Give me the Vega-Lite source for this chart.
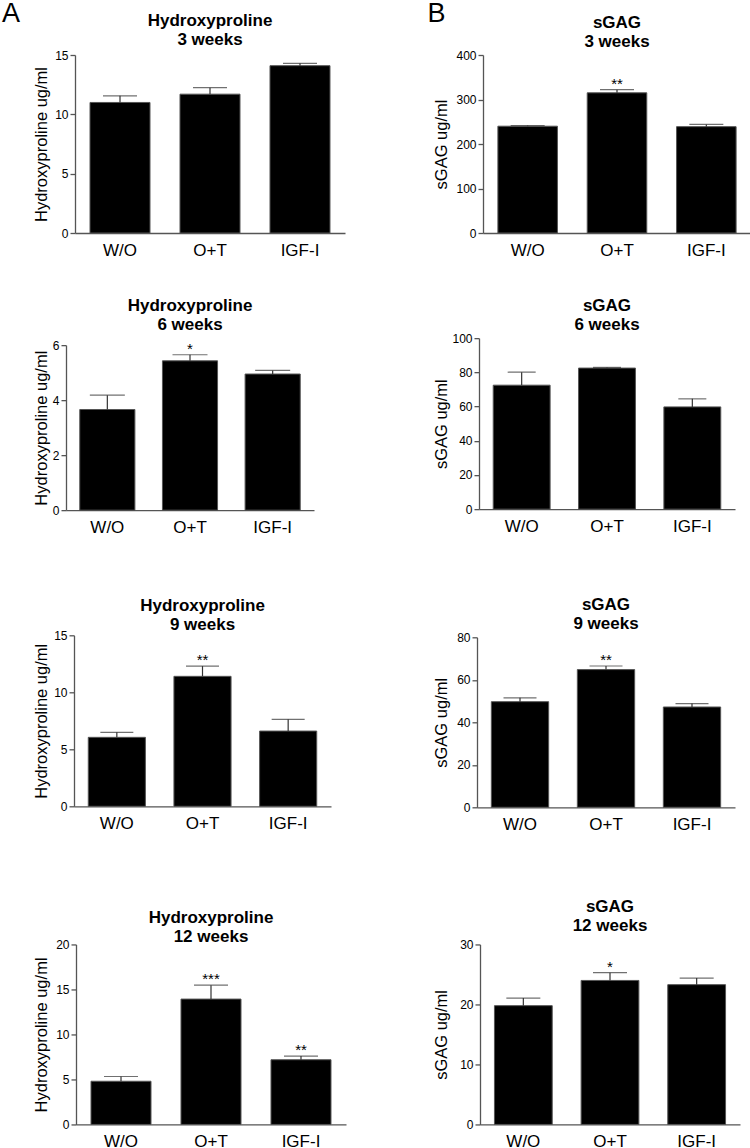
{
  "$schema": "https://vega.github.io/schema/vega-lite/v6.json",
  "padding": {"left": 1, "top": 0, "right": 0, "bottom": 0},
  "background": "white",
  "datasets": {
    "d": [
      {"panel": "A1", "group": "W/O", "value": 11.0, "upper": 11.56, "sig": ""},
      {"panel": "A1", "group": "O+T", "value": 11.7, "upper": 12.25, "sig": ""},
      {"panel": "A1", "group": "IGF-I", "value": 14.1, "upper": 14.3, "sig": ""},
      {"panel": "A2", "group": "W/O", "value": 3.66, "upper": 4.18, "sig": ""},
      {"panel": "A2", "group": "O+T", "value": 5.43, "upper": 5.65, "sig": "*"},
      {"panel": "A2", "group": "IGF-I", "value": 4.95, "upper": 5.08, "sig": ""},
      {"panel": "A3", "group": "W/O", "value": 6.05, "upper": 6.49, "sig": ""},
      {"panel": "A3", "group": "O+T", "value": 11.4, "upper": 12.3, "sig": "**"},
      {"panel": "A3", "group": "IGF-I", "value": 6.6, "upper": 7.63, "sig": ""},
      {"panel": "A4", "group": "W/O", "value": 4.8, "upper": 5.33, "sig": ""},
      {"panel": "A4", "group": "O+T", "value": 13.93, "upper": 15.48, "sig": "***"},
      {"panel": "A4", "group": "IGF-I", "value": 7.19, "upper": 7.6, "sig": "**"},
      {"panel": "B1", "group": "W/O", "value": 240, "upper": 241.6, "sig": ""},
      {"panel": "B1", "group": "O+T", "value": 315, "upper": 322, "sig": "**"},
      {"panel": "B1", "group": "IGF-I", "value": 239, "upper": 244, "sig": ""},
      {"panel": "B2", "group": "W/O", "value": 72.5, "upper": 80.1, "sig": ""},
      {"panel": "B2", "group": "O+T", "value": 82.5, "upper": 82.9, "sig": ""},
      {"panel": "B2", "group": "IGF-I", "value": 59.8, "upper": 64.5, "sig": ""},
      {"panel": "B3", "group": "W/O", "value": 49.7, "upper": 51.5, "sig": ""},
      {"panel": "B3", "group": "O+T", "value": 64.8, "upper": 66.5, "sig": "**"},
      {"panel": "B3", "group": "IGF-I", "value": 47.2, "upper": 48.8, "sig": ""},
      {"panel": "B4", "group": "W/O", "value": 19.8, "upper": 21.06, "sig": ""},
      {"panel": "B4", "group": "O+T", "value": 24.0, "upper": 25.3, "sig": "*"},
      {"panel": "B4", "group": "IGF-I", "value": 23.3, "upper": 24.4, "sig": ""}
    ]
  },
  "data": {"name": "d"},
  "spacing": 81,
  "hconcat": [
    {
      "title": {"text": "A", "anchor": "start", "fontSize": 27, "fontWeight": "normal", "offset": -15.7, "dx": -30.1},
      "spacing": 38.15,
      "vconcat": [
        {
          "spacing": 0,
          "hconcat": [
            {"width": 1, "height": 1, "data": {"values": [{"s": 0}]}, "mark": {"type": "point", "size": 0, "strokeWidth": 0, "opacity": 0}, "encoding": {}},
            {
              "width": 270, "height": 178,
              "title": {"text": ["Hydroxyproline", "3 weeks"], "offset": -0.4},
              "transform": [{"filter": "datum.panel === 'A1'"}],
              "encoding": {"x": {"field": "group", "type": "nominal", "sort": ["W/O", "O+T", "IGF-I"], "scale": {"paddingInner": 0.3333, "paddingOuter": 0.1667}, "title": null}},
              "layer": [
                {"mark": {"type": "bar", "fill": "#000", "stroke": "#555", "strokeWidth": 1}, "encoding": {"y": {"field": "value", "type": "quantitative", "scale": {"domain": [0, 15], "nice": false}, "axis": {"values": [0, 5, 10, 15], "tickCount": 4, "titlePadding": 5.6}, "title": "Hydroxyproline ug/ml"}}},
                {"mark": {"type": "rule", "color": "#333", "strokeWidth": 1.2}, "encoding": {"y": {"field": "value", "type": "quantitative", "title": "Hydroxyproline ug/ml"}, "y2": {"field": "upper"}}},
                {"mark": {"type": "tick", "color": "#333", "thickness": 1.2, "size": 34}, "encoding": {"y": {"field": "upper", "type": "quantitative", "title": "Hydroxyproline ug/ml"}}},
                {"mark": {"type": "text", "baseline": "alphabetic", "fontSize": 15, "dy": -1, "color": "#000"}, "encoding": {"y": {"field": "upper", "type": "quantitative", "title": "Hydroxyproline ug/ml"}, "text": {"field": "sig"}}}
              ]
            }
          ]
        },
        {
          "spacing": 61.15,
          "vconcat": [
            {
              "spacing": 0,
              "hconcat": [
                {"width": 1, "height": 1, "data": {"values": [{"s": 0}]}, "mark": {"type": "point", "size": 0, "strokeWidth": 0, "opacity": 0}, "encoding": {}},
                {
                  "width": 248, "height": 165,
                  "title": {"text": ["Hydroxyproline", "6 weeks"], "offset": 5.6},
                  "transform": [{"filter": "datum.panel === 'A2'"}],
                  "encoding": {"x": {"field": "group", "type": "nominal", "sort": ["W/O", "O+T", "IGF-I"], "scale": {"paddingInner": 0.3333, "paddingOuter": 0.1667}, "title": null}},
                  "layer": [
                    {"mark": {"type": "bar", "fill": "#000", "stroke": "#555", "strokeWidth": 1}, "encoding": {"y": {"field": "value", "type": "quantitative", "scale": {"domain": [0, 6], "nice": false}, "axis": {"values": [0, 2, 4, 6], "tickCount": 4, "titlePadding": 2.7}, "title": "Hydroxyproline ug/ml"}}},
                    {"mark": {"type": "rule", "color": "#333", "strokeWidth": 1.2}, "encoding": {"y": {"field": "value", "type": "quantitative", "title": "Hydroxyproline ug/ml"}, "y2": {"field": "upper"}}},
                    {"mark": {"type": "tick", "color": "#333", "thickness": 1.2, "size": 35}, "encoding": {"y": {"field": "upper", "type": "quantitative", "title": "Hydroxyproline ug/ml"}}},
                    {"mark": {"type": "text", "baseline": "alphabetic", "fontSize": 15, "dy": -1, "color": "#000"}, "encoding": {"y": {"field": "upper", "type": "quantitative", "title": "Hydroxyproline ug/ml"}, "text": {"field": "sig"}}}
                  ]
                }
              ]
            },
            {
              "spacing": 77.15,
              "vconcat": [
                {
                  "spacing": 0,
                  "hconcat": [
                    {"width": 1, "height": 1, "data": {"values": [{"s": 0}]}, "mark": {"type": "point", "size": 0, "strokeWidth": 0, "opacity": 0}, "encoding": {}},
                    {
                      "width": 257, "height": 171,
                      "title": {"text": ["Hydroxyproline", "9 weeks"], "offset": -4.4},
                      "transform": [{"filter": "datum.panel === 'A3'"}],
                      "encoding": {"x": {"field": "group", "type": "nominal", "sort": ["W/O", "O+T", "IGF-I"], "scale": {"paddingInner": 0.3333, "paddingOuter": 0.1667}, "title": null}},
                      "layer": [
                        {"mark": {"type": "bar", "fill": "#000", "stroke": "#555", "strokeWidth": 1}, "encoding": {"y": {"field": "value", "type": "quantitative", "scale": {"domain": [0, 15], "nice": false}, "axis": {"values": [0, 5, 10, 15], "tickCount": 4, "titlePadding": 4.6}, "title": "Hydroxyproline ug/ml"}}},
                        {"mark": {"type": "rule", "color": "#333", "strokeWidth": 1.2}, "encoding": {"y": {"field": "value", "type": "quantitative", "title": "Hydroxyproline ug/ml"}, "y2": {"field": "upper"}}},
                        {"mark": {"type": "tick", "color": "#333", "thickness": 1.2, "size": 33}, "encoding": {"y": {"field": "upper", "type": "quantitative", "title": "Hydroxyproline ug/ml"}}},
                        {"mark": {"type": "text", "baseline": "alphabetic", "fontSize": 15, "dy": -1, "color": "#000"}, "encoding": {"y": {"field": "upper", "type": "quantitative", "title": "Hydroxyproline ug/ml"}, "text": {"field": "sig"}}}
                      ]
                    }
                  ]
                },
                {
                  "spacing": 0,
                  "hconcat": [
                    {"width": 1, "height": 1, "data": {"values": [{"s": 0}]}, "mark": {"type": "point", "size": 0, "strokeWidth": 0, "opacity": 0}, "encoding": {}},
                    {
                      "width": 270, "height": 180,
                      "title": {"text": ["Hydroxyproline", "12 weeks"], "offset": -7.4},
                      "transform": [{"filter": "datum.panel === 'A4'"}],
                      "encoding": {"x": {"field": "group", "type": "nominal", "sort": ["W/O", "O+T", "IGF-I"], "scale": {"paddingInner": 0.3333, "paddingOuter": 0.1667}, "title": null}},
                      "layer": [
                        {"mark": {"type": "bar", "fill": "#000", "stroke": "#555", "strokeWidth": 1}, "encoding": {"y": {"field": "value", "type": "quantitative", "scale": {"domain": [0, 20], "nice": false}, "axis": {"values": [0, 5, 10, 15, 20], "tickCount": 5, "titlePadding": 6.6}, "title": "Hydroxyproline ug/ml"}}},
                        {"mark": {"type": "rule", "color": "#333", "strokeWidth": 1.2}, "encoding": {"y": {"field": "value", "type": "quantitative", "title": "Hydroxyproline ug/ml"}, "y2": {"field": "upper"}}},
                        {"mark": {"type": "tick", "color": "#333", "thickness": 1.2, "size": 34}, "encoding": {"y": {"field": "upper", "type": "quantitative", "title": "Hydroxyproline ug/ml"}}},
                        {"mark": {"type": "text", "baseline": "alphabetic", "fontSize": 15, "dy": -1, "color": "#000"}, "encoding": {"y": {"field": "upper", "type": "quantitative", "title": "Hydroxyproline ug/ml"}, "text": {"field": "sig"}}}
                      ]
                    }
                  ]
                }
              ]
            }
          ]
        }
      ]
    },
    {
      "title": {"text": "B", "anchor": "start", "fontSize": 27, "fontWeight": "normal", "offset": -13.7, "dx": -4.5},
      "spacing": 38.15,
      "vconcat": [
        {
          "spacing": 0,
          "hconcat": [
            {"width": 1, "height": 1, "data": {"values": [{"s": 0}]}, "mark": {"type": "point", "size": 0, "strokeWidth": 0, "opacity": 0}, "encoding": {}},
            {
              "width": 268, "height": 178,
              "title": {"text": ["sGAG", "3 weeks"], "offset": -2.4},
              "transform": [{"filter": "datum.panel === 'B1'"}],
              "encoding": {"x": {"field": "group", "type": "nominal", "sort": ["W/O", "O+T", "IGF-I"], "scale": {"paddingInner": 0.3333, "paddingOuter": 0.1667}, "title": null}},
              "layer": [
                {"mark": {"type": "bar", "fill": "#000", "stroke": "#555", "strokeWidth": 1}, "encoding": {"y": {"field": "value", "type": "quantitative", "scale": {"domain": [0, 400], "nice": false}, "axis": {"values": [0, 100, 200, 300, 400], "tickCount": 5, "titlePadding": 6}, "title": "sGAG ug/ml"}}},
                {"mark": {"type": "rule", "color": "#333", "strokeWidth": 1.2}, "encoding": {"y": {"field": "value", "type": "quantitative", "title": "sGAG ug/ml"}, "y2": {"field": "upper"}}},
                {"mark": {"type": "tick", "color": "#333", "thickness": 1.2, "size": 34}, "encoding": {"y": {"field": "upper", "type": "quantitative", "title": "sGAG ug/ml"}}},
                {"mark": {"type": "text", "baseline": "alphabetic", "fontSize": 15, "dy": -1, "color": "#000"}, "encoding": {"y": {"field": "upper", "type": "quantitative", "title": "sGAG ug/ml"}, "text": {"field": "sig"}}}
              ]
            }
          ]
        },
        {
          "spacing": 61.15,
          "vconcat": [
            {
              "spacing": 0,
              "hconcat": [
                {"width": 1, "height": 1, "data": {"values": [{"s": 0}]}, "mark": {"type": "point", "size": 0, "strokeWidth": 0, "opacity": 0}, "encoding": {}},
                {
                  "width": 256, "height": 171,
                  "title": {"text": ["sGAG", "6 weeks"], "offset": -1.4},
                  "transform": [{"filter": "datum.panel === 'B2'"}],
                  "encoding": {"x": {"field": "group", "type": "nominal", "sort": ["W/O", "O+T", "IGF-I"], "scale": {"paddingInner": 0.3333, "paddingOuter": 0.1667}, "title": null}},
                  "layer": [
                    {"mark": {"type": "bar", "fill": "#000", "stroke": "#555", "strokeWidth": 1}, "encoding": {"y": {"field": "value", "type": "quantitative", "scale": {"domain": [0, 100], "nice": false}, "axis": {"values": [0, 20, 40, 60, 80, 100], "tickCount": 6, "titlePadding": 2.5}, "title": "sGAG ug/ml"}}},
                    {"mark": {"type": "rule", "color": "#333", "strokeWidth": 1.2}, "encoding": {"y": {"field": "value", "type": "quantitative", "title": "sGAG ug/ml"}, "y2": {"field": "upper"}}},
                    {"mark": {"type": "tick", "color": "#333", "thickness": 1.2, "size": 28}, "encoding": {"y": {"field": "upper", "type": "quantitative", "title": "sGAG ug/ml"}}},
                    {"mark": {"type": "text", "baseline": "alphabetic", "fontSize": 15, "dy": -1, "color": "#000"}, "encoding": {"y": {"field": "upper", "type": "quantitative", "title": "sGAG ug/ml"}, "text": {"field": "sig"}}}
                  ]
                }
              ]
            },
            {
              "spacing": 65.15,
              "vconcat": [
                {
                  "spacing": 0,
                  "hconcat": [
                    {"width": 1, "height": 1, "data": {"values": [{"s": 0}]}, "mark": {"type": "point", "size": 0, "strokeWidth": 0, "opacity": 0}, "encoding": {}},
                    {
                      "width": 258, "height": 170,
                      "title": {"text": ["sGAG", "9 weeks"], "offset": -1.4},
                      "transform": [{"filter": "datum.panel === 'B3'"}],
                      "encoding": {"x": {"field": "group", "type": "nominal", "sort": ["W/O", "O+T", "IGF-I"], "scale": {"paddingInner": 0.3333, "paddingOuter": 0.1667}, "title": null}},
                      "layer": [
                        {"mark": {"type": "bar", "fill": "#000", "stroke": "#555", "strokeWidth": 1}, "encoding": {"y": {"field": "value", "type": "quantitative", "scale": {"domain": [0, 80], "nice": false}, "axis": {"values": [0, 20, 40, 60, 80], "tickCount": 5, "titlePadding": 7.2}, "title": "sGAG ug/ml"}}},
                        {"mark": {"type": "rule", "color": "#333", "strokeWidth": 1.2}, "encoding": {"y": {"field": "value", "type": "quantitative", "title": "sGAG ug/ml"}, "y2": {"field": "upper"}}},
                        {"mark": {"type": "tick", "color": "#333", "thickness": 1.2, "size": 33}, "encoding": {"y": {"field": "upper", "type": "quantitative", "title": "sGAG ug/ml"}}},
                        {"mark": {"type": "text", "baseline": "alphabetic", "fontSize": 15, "dy": -1, "color": "#000"}, "encoding": {"y": {"field": "upper", "type": "quantitative", "title": "sGAG ug/ml"}, "text": {"field": "sig"}}}
                      ]
                    }
                  ]
                },
                {
                  "spacing": 0,
                  "hconcat": [
                    {"width": 1, "height": 1, "data": {"values": [{"s": 0}]}, "mark": {"type": "point", "size": 0, "strokeWidth": 0, "opacity": 0}, "encoding": {}},
                    {
                      "width": 260, "height": 180,
                      "title": {"text": ["sGAG", "12 weeks"], "offset": 3.6},
                      "transform": [{"filter": "datum.panel === 'B4'"}],
                      "encoding": {"x": {"field": "group", "type": "nominal", "sort": ["W/O", "O+T", "IGF-I"], "scale": {"paddingInner": 0.3333, "paddingOuter": 0.1667}, "title": null}},
                      "layer": [
                        {"mark": {"type": "bar", "fill": "#000", "stroke": "#555", "strokeWidth": 1}, "encoding": {"y": {"field": "value", "type": "quantitative", "scale": {"domain": [0, 30], "nice": false}, "axis": {"values": [0, 10, 20, 30], "tickCount": 4, "titlePadding": 10.2}, "title": "sGAG ug/ml"}}},
                        {"mark": {"type": "rule", "color": "#333", "strokeWidth": 1.2}, "encoding": {"y": {"field": "value", "type": "quantitative", "title": "sGAG ug/ml"}, "y2": {"field": "upper"}}},
                        {"mark": {"type": "tick", "color": "#333", "thickness": 1.2, "size": 34}, "encoding": {"y": {"field": "upper", "type": "quantitative", "title": "sGAG ug/ml"}}},
                        {"mark": {"type": "text", "baseline": "alphabetic", "fontSize": 15, "dy": -1, "color": "#000"}, "encoding": {"y": {"field": "upper", "type": "quantitative", "title": "sGAG ug/ml"}, "text": {"field": "sig"}}}
                      ]
                    }
                  ]
                }
              ]
            }
          ]
        }
      ]
    }
  ],
  "config": {
    "font": "Liberation Sans",
    "view": {"stroke": null},
    "title": {"fontSize": 17, "fontWeight": "bold", "lineHeight": 19, "color": "#000", "font": "Liberation Sans"},
    "axis": {"grid": false, "domainColor": "#555", "domainWidth": 1.3, "tickColor": "#555", "tickWidth": 1.3, "labelColor": "#000", "titleColor": "#000", "titleFontWeight": "normal", "labelFont": "Liberation Sans", "titleFont": "Liberation Sans"},
    "axisX": {"ticks": false, "tickSize": 0, "labelAngle": 0, "labelFontSize": 17, "labelPadding": 9},
    "axisY": {"tickSize": 5, "labelFontSize": 12, "labelPadding": 2, "labelOverlap": false, "titleFontSize": 16.5},
    "text": {"font": "Liberation Sans"}
  }
}
